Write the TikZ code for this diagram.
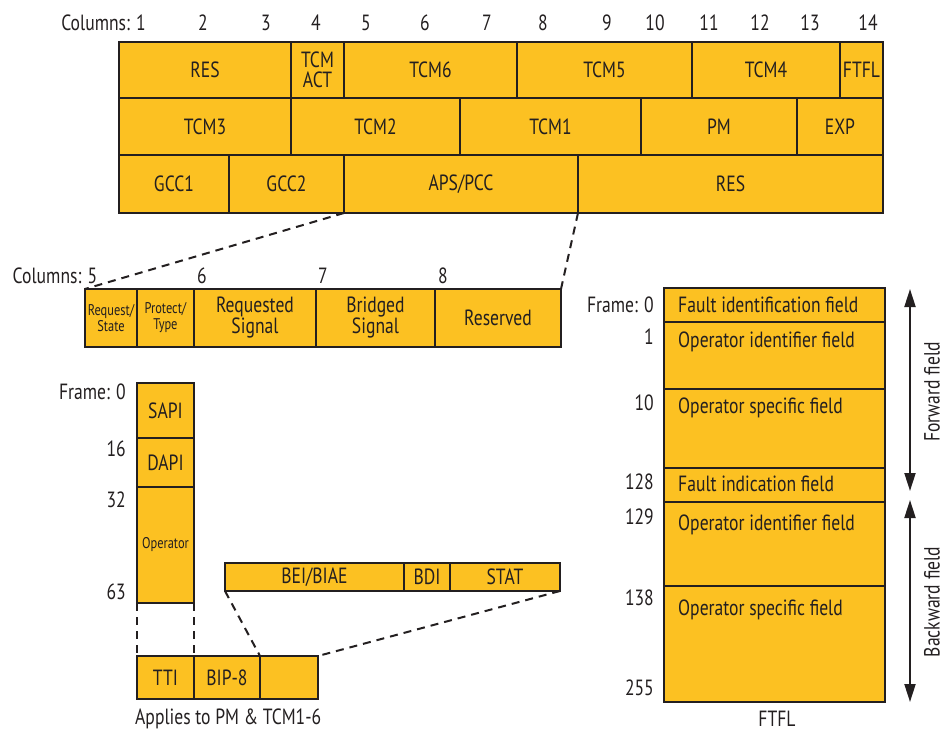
\documentclass[tikz,border=0pt]{standalone}
\usepackage{fontspec}
\setmainfont{PT Sans}[FakeStretch=0.8]
\usetikzlibrary{arrows.meta}

\definecolor{gold}{HTML}{FCC122}
\definecolor{ink}{HTML}{231F20}

\newcommand\lbl{\fontsize{22}{23}\selectfont}
\newcommand\sml{\fontsize{15.5}{16}\selectfont}

\tikzset{
  cell/.style={draw=ink, fill=gold, line width=2pt, inner sep=0pt, outer sep=0pt,
               align=center, font=\lbl, text=ink},
  txt/.style={inner sep=0pt, font=\lbl, text=ink},
  zoomline/.style={draw=ink, line width=2pt, dash pattern=on 8pt off 6pt},
  span/.style={draw=ink, line width=2pt, {Triangle[length=18pt,width=11pt]}-{Triangle[length=18pt,width=11pt]}}
}

% \fcell[options]{name}{x1}{y1}{x2}{y2}{text}
\newcommand\fcell[7][]{%
  \node[cell, minimum width={(#5-#3)*1pt}, minimum height={(#6-#4)*1pt}, #1]
    (#2) at ({(#3+#5)/2},{(#4+#6)/2}) {#7};}

\begin{document}
\begin{tikzpicture}[x=1pt, y=-1pt]
\useasboundingbox (0,0) rectangle (946,733);

% ---- OTU overhead: column numbers
\node[txt, anchor=east] (colhdr) at (146,23) {Columns: 1};
\foreach \n/\cx in {2/203,3/266,4/316,5/366,6/425,7/487,8/543,9/607,10/655,11/709,12/760,13/810,14/868}
  \node[txt] (col\n) at (\cx,23) {\n};

% ---- OTU overhead: row 1
\fcell{resA}{119}{42}{291}{98}{RES}
\fcell{tcmact}{291}{42}{344}{98}{TCM\\[-3pt]ACT}
\fcell{tcm6}{344}{42}{517}{98}{TCM6}
\fcell{tcm5}{517}{42}{692}{98}{TCM5}
\fcell{tcm4}{692}{42}{840}{98}{TCM4}
\fcell{ftflcell}{840}{42}{883}{98}{FTFL}
% row 2
\fcell{tcm3}{119}{98}{291}{155}{TCM3}
\fcell{tcm2}{291}{98}{460}{155}{TCM2}
\fcell{tcm1}{460}{98}{641}{155}{TCM1}
\fcell{pm}{641}{98}{797}{155}{PM}
\fcell{exp}{797}{98}{883}{155}{EXP}
% row 3
\fcell{gcc1}{119}{155}{229}{213}{GCC1}
\fcell{gcc2}{229}{155}{344}{213}{GCC2}
\fcell{aps}{344}{155}{578}{213}{APS/PCC}
\fcell{resB}{578}{155}{883}{213}{RES}

% ---- APS/PCC detail
\node[txt] (apshdr) at (55,276) {Columns: 5};
\node[txt] (apsc6) at (202,276) {6};
\node[txt] (apsc7) at (323,276) {7};
\node[txt] (apsc8) at (443,276) {8};
\fcell[font=\sml]{reqstate}{85}{289}{137}{347}{Request/\\State}
\fcell[font=\sml]{prottype}{137}{289}{194}{347}{Protect/\\Type}
\fcell{reqsig}{194}{289}{316}{347}{Requested\\[-2pt]Signal}
\fcell{brsig}{316}{289}{435}{347}{Bridged\\[-2pt]Signal}
\fcell{rsvd}{435}{289}{561}{347}{Reserved}
\draw[zoomline] (aps.south west) -- (reqstate.north west);
\draw[zoomline] (aps.south east) -- (rsvd.north east);

% ---- TTI multiframe
\fcell{sapi}{137}{383}{194}{438}{SAPI}
\fcell{dapi}{137}{438}{194}{487}{DAPI}
\fcell[font=\sml]{oper}{137}{487}{194}{603}{Operator}
\node[txt, anchor=east] (fr0) at (126,392) {Frame: 0};
\node[txt, anchor=east] (fr16) at (126,449) {16};
\node[txt, anchor=east] (fr32) at (126,500) {32};
\node[txt, anchor=east] (fr63) at (126,592) {63};

% ---- status byte
\fcell{bei}{225}{563}{404}{591}{BEI/BIAE}
\fcell{bdi}{404}{563}{450}{591}{BDI}
\fcell{stat}{450}{563}{560}{591}{STAT}

% ---- PM/TCM field bytes
\fcell{tti}{137}{656}{194}{699}{TTI}
\fcell{bip}{194}{656}{260}{699}{BIP-8}
\fcell{third}{260}{656}{318}{699}{}
\node[txt, anchor=west] (applies) at (135,719) {Applies to PM \& TCM1-6};

\draw[zoomline] (oper.south west) -- (tti.north west);
\draw[zoomline] (oper.south east) -- (tti.north east);
\draw[zoomline] (bei.south west) -- (bip.north east);
\draw[zoomline] (stat.south east) -- (third.north east);

% ---- FTFL message
\fcell{fif}{664}{288}{885}{322}{}
\fcell{oifA}{664}{322}{885}{389}{}
\fcell{osfA}{664}{389}{885}{468}{}
\fcell{findf}{664}{468}{885}{502}{}
\fcell{oifB}{664}{502}{885}{586}{}
\fcell{osfB}{664}{586}{885}{702}{}
\node[txt, anchor=west] (tfif) at (678,305) {Fault identification field};
\node[txt, anchor=west] (toifA) at (678,342) {Operator identifier field};
\node[txt, anchor=west] (tosfA) at (678,408) {Operator specific field};
\node[txt, anchor=west] (tfind) at (678,484) {Fault indication field};
\node[txt, anchor=west] (toifB) at (678,525) {Operator identifier field};
\node[txt, anchor=west] (tosfB) at (678,610) {Operator specific field};

\foreach \nm/\v/\yy in {f0/Frame: 0/305, f1/1/337, f10/10/403, f128/128/482, f129/129/517, f138/138/598, f255/255/688}
  \node[txt, anchor=east] (\nm) at (654,\yy) {\v};

\coordinate (fwdtop) at (910,289);
\coordinate (fwdbot) at (910,491);
\coordinate (bwdtop) at (910,500);
\coordinate (bwdbot) at (910,702);
\draw[span] (fwdtop) -- (fwdbot);
\draw[span] (bwdtop) -- (bwdbot);
\node[txt, rotate=90] (fwdlbl) at (932,392) {Forward field};
\node[txt, rotate=90] (bwdlbl) at (932,602) {Backward field};
\node[txt] (ftfllbl) at (777,719) {FTFL};
\end{tikzpicture}
\end{document}
